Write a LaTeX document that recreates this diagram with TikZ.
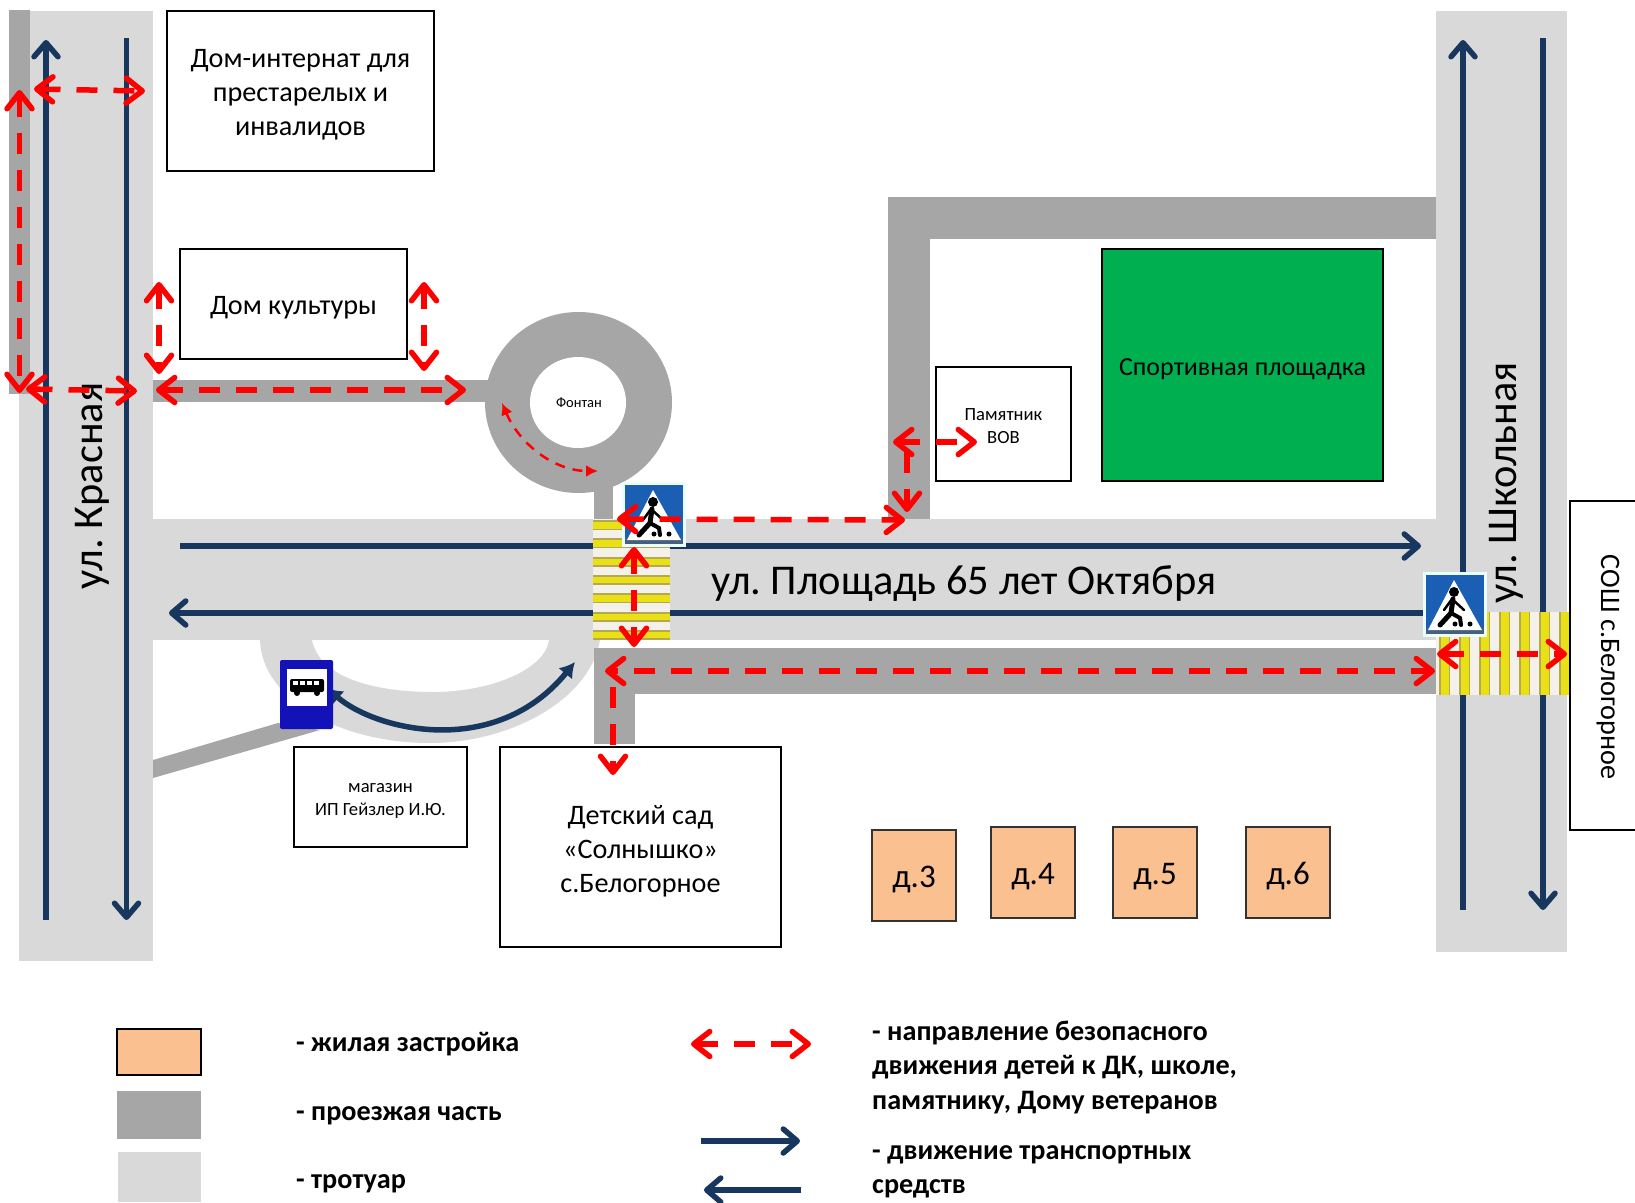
\documentclass[tikz,border=0pt]{standalone}
\usepackage{fontspec}
\setmainfont{Carlito}
\usetikzlibrary{arrows.meta}
\definecolor{sidewalk}{HTML}{D9D9D9}
\definecolor{roadway}{HTML}{A6A6A6}
\definecolor{navyline}{HTML}{17375E}
\definecolor{housefill}{HTML}{FAC090}
\definecolor{sportfill}{HTML}{00B050}
\definecolor{zebrayellow}{HTML}{E9E015}
\definecolor{zebraolive}{HTML}{B5A850}
\definecolor{zebrawhite}{HTML}{F4F0EA}
\definecolor{signblue}{HTML}{1A5FB4}
\definecolor{busblue}{HTML}{1212B8}
\tikzset{
  placebox/.style={draw=black,line width=1.5pt,fill=white,inner sep=0pt},
  housebox/.style={draw=black!80,line width=1.5pt,fill=housefill,inner sep=0pt,minimum width=84pt,minimum height=91pt},
  housetext/.style={font=\fontsize{33}{36}\selectfont},
  mediumtext/.style={font=\fontsize{28.2}{34}\selectfont,align=center},
  smalltext/.style={font=\fontsize{18.6}{23}\selectfont,align=center},
  streettext/.style={font=\fontsize{42.4}{44}\selectfont},
  legendtext/.style={font=\fontsize{28.2}{34.5}\selectfont\bfseries,align=left,anchor=west,inner sep=0pt},
  safepath/.style={draw=red,line width=5.5pt,dash pattern=on 21pt off 16pt,<->,>={Straight Barb[length=16pt,width=25pt,round]}},
  thinpath/.style={draw=red,line width=2.5pt,dash pattern=on 10pt off 8pt,<->,>={Latex[length=12pt,width=12pt]}},
  traffic/.style={draw=navyline,line width=5.5pt,->,>={Straight Barb[length=14pt,width=24pt,round]}},
  pedsign/.pic={
    \fill[blue!5!cyan!8] (0,0) rectangle (64,65);
    \fill[signblue] (3,3) rectangle (61,62);
    \fill[navyline!80] (3,56) rectangle (61,62);
    \fill[white] (31,8) -- (59,58) -- (5,58) -- cycle;
    \fill[black] (31,20) circle [radius=5];
    \draw[black,line width=5pt,line cap=round] (30,27) -- (28,41) -- (17,53);
    \draw[black,line width=4pt,line cap=round] (28,41) -- (37,46) -- (38,53);
    \draw[black,line width=2.5pt,line cap=round] (21,38) -- (29,27) -- (41,38);
    \fill[black] (32,52) circle [radius=2.5];
    \fill[black] (47,52) circle [radius=2.5];
  },
  bussign/.pic={
    \fill[busblue,rounded corners=2pt] (0,0) rectangle (53,69);
    \fill[white] (7,9) rectangle (47,46);
    \fill[black,rounded corners=2pt] (10,19) rectangle (44,32);
    \foreach \wx in {13,20,27,34} {
      \fill[white] (\wx,21) rectangle (\wx+5,25);
    }
    \fill[black] (17,33) circle [radius=3];
    \fill[black] (37,33) circle [radius=3];
  }
}
\begin{document}
\begin{tikzpicture}[x=1pt,y=-1pt]
  \clip (0,0) rectangle (1635,1202);
  \useasboundingbox (0,0) rectangle (1635,1202);
  % sidewalks
  \fill[sidewalk] (30,11) rectangle (153,394);
  \fill[sidewalk] (19,394) rectangle (153,961);
  \fill[sidewalk] (1436,11) rectangle (1567,952);
  \fill[sidewalk] (153,519) rectangle (1436,640);
  \fill[sidewalk] (260,640) .. controls (262,700) and (340,743) .. (430,743)
    .. controls (510,743) and (590,700) .. (600,640) -- (549,640)
    .. controls (545,670) and (490,692) .. (433,692)
    .. controls (380,692) and (320,680) .. (312,640) -- cycle;
  % roadway
  \fill[roadway] (9,10) rectangle (30,394);
  \fill[roadway] (153,380) rectangle (490,402);
  \fill[roadway] (578.5,402.5) ellipse [x radius=93.5,y radius=90.5];
  \fill[white] (578,402.5) ellipse [x radius=48,y radius=45.5];
  \fill[roadway] (594,480) rectangle (613,520);
  \fill[roadway] (888,197) rectangle (1436,239);
  \fill[roadway] (888,197) rectangle (930,519);
  \fill[roadway] (594,648) rectangle (1438,694);
  \fill[roadway] (594,648) rectangle (635,744);
  \fill[roadway] (153,760) -- (278,723) -- (320,730) -- (153,778) -- cycle;

  % traffic lines
  \coordinate (lefta) at (46,920);
  \coordinate (leftb) at (46,40);
  \coordinate (leftc) at (126.5,38);
  \coordinate (leftd) at (126.5,920);
  \coordinate (righta) at (1463,910);
  \coordinate (rightb) at (1463,40);
  \coordinate (rightc) at (1543,38);
  \coordinate (rightd) at (1543,910);
  \coordinate (squarea) at (180,546);
  \coordinate (squareb) at (1421,546);
  \coordinate (squarec) at (1423,613);
  \coordinate (squared) at (169,613);
  \coordinate (busa) at (327,688);
  \coordinate (busb) at (575,662);
  \draw[traffic] (lefta) -- (leftb);
  \draw[traffic] (leftc) -- (leftd);
  \draw[traffic] (righta) -- (rightb);
  \draw[traffic] (rightc) -- (rightd);
  \draw[traffic] (squarea) -- (squareb);
  \draw[traffic] (squarec) -- (squared);
  \draw[traffic,<->,>={Latex[length=15pt,width=18pt]}] (busa) .. controls (375,730) and (495,760) .. (busb);

  % crossings
  \fill[zebrawhite] (593,519) rectangle (670,639);
  \foreach \k in {0,...,6} {
    \fill[zebrayellow] (593,520+18.3*\k) rectangle (670,529+18.3*\k);
    \fill[zebraolive] (593,520+18.3*\k) rectangle (670,522+18.3*\k);
    \fill[zebraolive] (593,528.5+18.3*\k) rectangle (670,530+18.3*\k);
  }
  \fill[zebrawhite] (1436,612) rectangle (1568,695);
  \foreach \k in {0,...,6} {
    \fill[zebrayellow] (1440+20*\k,612) rectangle (1449+20*\k,695);
    \fill[zebraolive] (1439+20*\k,612) rectangle (1441+20*\k,695);
    \fill[zebraolive] (1448.5+20*\k,612) rectangle (1450+20*\k,695);
  }

  % places
  \node[placebox,minimum width=267pt,minimum height=160pt] (internat) at (300.5,91) {};
  \node[mediumtext] (internattext) at ([yshift=-4pt]internat) {Дом-интернат для\\престарелых и\\инвалидов};
  \node[placebox,minimum width=227pt,minimum height=110pt] (culture) at (293.5,304) {};
  \node[mediumtext] (culturetext) at ([yshift=-4pt]culture) {Дом культуры};
  \node[placebox,minimum width=173pt,minimum height=100pt] (shop) at (380.5,797) {};
  \node[smalltext] (shoptext) at ([yshift=-4pt]shop) {магазин\\ИП Гейзлер И.Ю.};
  \node[placebox,minimum width=281pt,minimum height=200pt] (kindergarten) at (640.5,847) {};
  \node[mediumtext] (kindergartentext) at ([yshift=-4pt]kindergarten) {Детский сад\\«Солнышко»\\с.Белогорное};
  \node[placebox,minimum width=135pt,minimum height=114pt] (memorial) at (1003.5,424) {};
  \node[smalltext] (memorialtext) at ([yshift=-2pt]memorial) {Памятник\\ВОВ};
  \node[placebox,fill=sportfill,minimum width=281pt,minimum height=232pt] (sport) at (1242.5,365) {};
  \node[font=\fontsize{26}{30}\selectfont] (sporttext) at ([yshift=-4pt]sport) {Спортивная площадка};
  \node[placebox,minimum width=140pt,minimum height=329pt] (schoolbox) at (1640,665.5) {};
  \node[mediumtext,rotate=-90] (school) at (1608,667) {СОШ с.Белогорное};
  \node[font=\fontsize{14.5}{16}\selectfont] (fountain) at (579,403) {Фонтан};
  \node[housebox] (house3) at (914,875.5) {};
  \node[housetext] (house3text) at ([yshift=-4pt]house3) {д.3};
  \node[housebox] (house4) at (1033,872.5) {};
  \node[housetext] (house4text) at ([yshift=-4pt]house4) {д.4};
  \node[housebox] (house5) at (1155,872.5) {};
  \node[housetext] (house5text) at ([yshift=-4pt]house5) {д.5};
  \node[housebox] (house6) at (1288,872.5) {};
  \node[housetext] (house6text) at ([yshift=-4pt]house6) {д.6};

  % street names
  \node[streettext,rotate=90] (redstreet) at (92,486) {ул.\ Красная};
  \node[streettext,rotate=90] (schoolstreet) at (1506,483) {ул.\ Школьная};
  \node[streettext] (squarestreet) at (964,584) {ул.\ Площадь 65 лет Октября};

  % signs
  \pic at (622,482) {pedsign};
  \pic at (1423,572) {pedsign};
  \pic at (280,660) {bussign};

  % safe routes
  \coordinate (safea) at (34,89);
  \coordinate (safeb) at (145,91);
  \coordinate (safec) at (19.5,90);
  \coordinate (safed) at (19.5,393);
  \coordinate (safee) at (26,389);
  \coordinate (safef) at (137,391);
  \coordinate (safeg) at (159,282);
  \coordinate (safeh) at (159,374);
  \coordinate (safei) at (424,282);
  \coordinate (safej) at (424,371);
  \coordinate (safek) at (156,390);
  \coordinate (safel) at (466,390);
  \coordinate (safem) at (617,519);
  \coordinate (safen) at (905,520);
  \coordinate (safeo) at (634,547);
  \coordinate (safep) at (634,647);
  \coordinate (safeq) at (605,671);
  \coordinate (safer) at (1435,671);
  \coordinate (safes) at (613,687);
  \coordinate (safet) at (613,775);
  \coordinate (safeu) at (1437,654);
  \coordinate (safev) at (1567,654);
  \coordinate (safew) at (893,442);
  \coordinate (safex) at (977,442);
  \coordinate (safey) at (907,452);
  \coordinate (safez) at (907,512);
  \coordinate (ringa) at (502,403);
  \coordinate (ringb) at (598,471);
  \draw[safepath] (safea) -- (safeb);
  \draw[safepath] (safec) -- (safed);
  \draw[safepath] (safee) -- (safef);
  \draw[safepath] (safeg) -- (safeh);
  \draw[safepath] (safei) -- (safej);
  \draw[safepath] (safek) -- (safel);
  \draw[safepath] (safem) -- (safen);
  \draw[safepath] (safeo) -- (safep);
  \draw[safepath,dash phase=14pt] (safeq) -- (safer);
  \draw[safepath,->] (safes) -- (safet);
  \draw[safepath] (safeu) -- (safev);
  \draw[safepath] (safew) -- (safex);
  \draw[safepath,->] (safey) -- (safez);
  \draw[thinpath] (ringa) .. controls (520,445) and (555,471) .. (ringb);

  % legend
  \node[draw=black,line width=1.5pt,fill=housefill,minimum width=84pt,minimum height=46pt,inner sep=0pt] (keyhouse) at (159,1052) {};
  \node[fill=roadway,minimum width=84pt,minimum height=48pt,inner sep=0pt] (keyroad) at (159,1114.5) {};
  \node[fill=sidewalk,minimum width=83pt,minimum height=50pt,inner sep=0pt] (keywalk) at (159.5,1177) {};
  \node[legendtext] (keyhousetext) at (296,1044) {- жилая застройка};
  \node[legendtext] (keyroadtext) at (296,1116) {- проезжая часть};
  \node[legendtext] (keywalktext) at (296,1184) {- тротуар};
  \node[legendtext] (keysafetext) at (872,1067) {- направление безопасного\\движения детей к ДК, школе,\\памятнику, Дому ветеранов};
  \node[legendtext] (keycartext) at (872,1172) {- движение транспортных\\средств};
  \coordinate (keysafea) at (691,1044);
  \coordinate (keysafeb) at (811,1044);
  \coordinate (keycara) at (701,1141);
  \coordinate (keycarb) at (800,1141);
  \coordinate (keycarc) at (801,1190);
  \coordinate (keycard) at (704,1190);
  \draw[safepath] (keysafea) -- (keysafeb);
  \draw[traffic] (keycara) -- (keycarb);
  \draw[traffic] (keycarc) -- (keycard);
\end{tikzpicture}
\end{document}
